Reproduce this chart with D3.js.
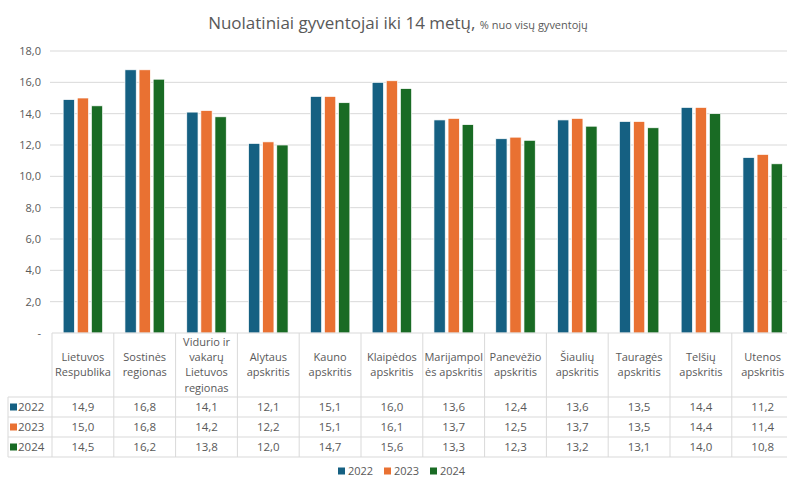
<!DOCTYPE html>
<html>
<head>
<meta charset="utf-8">
<script src="https://cdn.jsdelivr.net/npm/d3@7"></script>
<style>
	body { margin: 0; background: #fff; }
	svg { display: block; font-family: "Open Sans", sans-serif; }
</style>
</head>
<body>
<div id="chart"></div>
<script>
// data
var categories = [
	"Lietuvos Respublika",
	"Sostinės regionas",
	"Vidurio ir vakarų Lietuvos regionas",
	"Alytaus apskritis",
	"Kauno apskritis",
	"Klaipėdos apskritis",
	"Marijampolės apskritis",
	"Panevėžio apskritis",
	"Šiaulių apskritis",
	"Tauragės apskritis",
	"Telšių apskritis",
	"Utenos apskritis"
];
// header lines as wrapped in the table
var categoryLines = [
	["Lietuvos", "Respublika"],
	["Sostinės", "regionas"],
	["Vidurio ir", "vakarų", "Lietuvos", "regionas"],
	["Alytaus", "apskritis"],
	["Kauno", "apskritis"],
	["Klaipėdos", "apskritis"],
	["Marijampol", "ės apskritis"],
	["Panevėžio", "apskritis"],
	["Šiaulių", "apskritis"],
	["Tauragės", "apskritis"],
	["Telšių", "apskritis"],
	["Utenos", "apskritis"]
];
var years = ["2022", "2023", "2024"];
var values2022 = [14.9, 16.8, 14.1, 12.1, 15.1, 16.0, 13.6, 12.4, 13.6, 13.5, 14.4, 11.2];
var values2023 = [15.0, 16.8, 14.2, 12.2, 15.1, 16.1, 13.7, 12.5, 13.7, 13.5, 14.4, 11.4];
var values2024 = [14.5, 16.2, 13.8, 12.0, 14.7, 15.6, 13.3, 12.3, 13.2, 13.1, 14.0, 10.8];
var yTicks = [0, 2, 4, 6, 8, 10, 12, 14, 16, 18];

var series = [values2022, values2023, values2024];
var colors = ["#156082", "#E97132", "#196B24"];
var textColor = "#595959";
var lineColor = "#d9d9d9";

var width = 787;
var height = 479;
var svg = d3.select("#chart").append("svg")
	.attr("width", width)
	.attr("height", height);

var fmt = function (v) {
	return v === 0 ? "-" : d3.format(".1f")(v).replace(".", ",");
};

// scales
var x = d3.scaleBand().domain(categories).range([52, 52 + 12 * 61.8]);
var xInner = d3.scaleBand().domain(years).range([-19.75, 19.75]).paddingInner(0.2);
var y = d3.scaleLinear().domain([0, 18]).range([333, 51]);

// Title
var title = svg.append("text")
	.attr("x", 398)
	.attr("y", 29)
	.attr("text-anchor", "middle")
	.attr("fill", textColor);
title.append("tspan")
	.attr("font-size", "17px")
	.text("Nuolatiniai gyventojai iki 14 metų, ");
title.append("tspan")
	.attr("font-size", "11px")
	.text("% nuo visų gyventojų");

// gridlines
svg.append("g")
	.selectAll("line")
	.data(yTicks.filter((d) => d > 0))
	.join("line")
	.attr("x1", 50)
	.attr("x2", width)
	.attr("y1", (d) => y(d))
	.attr("y2", (d) => y(d))
	.attr("stroke", lineColor)
	.attr("stroke-width", 1);

// Y-axis labels
var yAxis = svg.append("g")
	.attr("transform", "translate(41,0)")
	.call(d3.axisLeft(y).tickValues(yTicks).tickFormat(fmt).tickSize(0).tickPadding(0));
yAxis.select(".domain").remove();
yAxis.selectAll("text")
	.attr("fill", textColor)
	.style("font-size", "11px")
	.style("font-family", "Open Sans, sans-serif");

// Add the bars
series.forEach(function (vals, si) {
	svg.append("g")
		.selectAll("rect")
		.data(vals)
		.join("rect")
		.attr("x", (d, i) => x(categories[i]) + x.bandwidth() / 2 + xInner(years[si]))
		.attr("y", (d) => y(d))
		.attr("width", xInner.bandwidth())
		.attr("height", (d) => y(0) - y(d))
		.attr("fill", colors[si])
		.attr("stroke", "#fff")
		.attr("stroke-width", 0.7);
});

// data table under the chart
var tableTop = 333;
var headerBottom = 397;
var rowH = 20;
var tableRight = x.range()[1];
var table = svg.append("g");

table.append("line")
	.attr("x1", 52).attr("x2", tableRight)
	.attr("y1", tableTop).attr("y2", tableTop)
	.attr("stroke", lineColor);

var bounds = categories.map((c) => x(c)).concat([tableRight]);
table.selectAll(".vline")
	.data(bounds)
	.join("line")
	.attr("class", "vline")
	.attr("x1", (d) => d).attr("x2", (d) => d)
	.attr("y1", tableTop).attr("y2", headerBottom + rowH * 3)
	.attr("stroke", lineColor);

table.selectAll(".hline")
	.data([0, 1, 2, 3])
	.join("line")
	.attr("class", "hline")
	.attr("x1", 8).attr("x2", tableRight)
	.attr("y1", (d) => headerBottom + d * rowH)
	.attr("y2", (d) => headerBottom + d * rowH)
	.attr("stroke", lineColor);

table.append("line")
	.attr("x1", 8).attr("x2", 8)
	.attr("y1", headerBottom).attr("y2", headerBottom + rowH * 3)
	.attr("stroke", lineColor);

// header labels
categories.forEach(function (c, i) {
	var lines = categoryLines[i];
	var lh = 15.2;
	var y0 = (tableTop + headerBottom) / 2 - (lines.length - 1) * lh / 2;
	var t = table.append("text")
		.attr("text-anchor", "middle")
		.attr("fill", textColor)
		.attr("font-size", "11px");
	lines.forEach(function (ln, k) {
		t.append("tspan")
			.attr("x", x(c) + x.bandwidth() / 2)
			.attr("y", y0 + k * lh)
			.attr("dy", "0.35em")
			.text(ln);
	});
});

// rows
series.forEach(function (vals, si) {
	var cy = headerBottom + si * rowH + rowH / 2;
	table.append("rect")
		.attr("x", 10).attr("y", cy - 3.5)
		.attr("width", 7).attr("height", 7)
		.attr("fill", colors[si]);
	table.append("text")
		.attr("x", 18).attr("y", cy)
		.attr("dy", "0.35em")
		.attr("fill", textColor)
		.attr("font-size", "11.5px")
		.text(years[si]);
	table.append("g")
		.selectAll("text")
		.data(vals)
		.join("text")
		.attr("x", (d, i) => x(categories[i]) + x.bandwidth() / 2)
		.attr("y", cy)
		.attr("dy", "0.35em")
		.attr("text-anchor", "middle")
		.attr("fill", textColor)
		.attr("font-size", "11.5px")
		.text(fmt);
});

// legend
var legend = svg.append("g").attr("transform", "translate(338,471)");
years.forEach(function (yr, i) {
	var g = legend.append("g").attr("transform", `translate(${i * 46},0)`);
	g.append("rect")
		.attr("x", 0).attr("y", -3.5)
		.attr("width", 7).attr("height", 7)
		.attr("fill", colors[i]);
	g.append("text")
		.attr("x", 10).attr("y", 0)
		.attr("dy", "0.35em")
		.attr("fill", textColor)
		.attr("font-size", "11px")
		.text(yr);
});
</script>
</body>
</html>
